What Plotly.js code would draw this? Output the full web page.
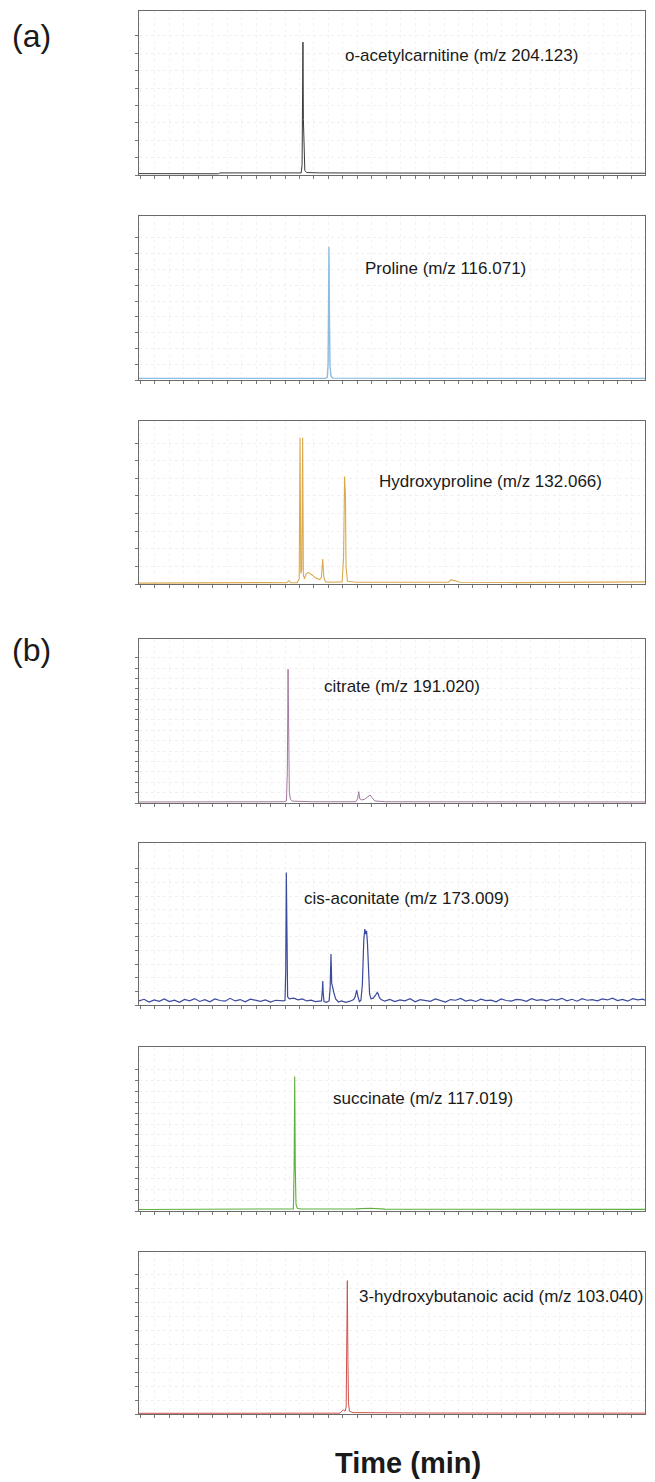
<!DOCTYPE html>
<html>
<head>
<meta charset="utf-8">
<script src="https://cdn.plot.ly/plotly-3.0.1.min.js"></script>
<style>
  html, body { margin: 0; padding: 0; background: #ffffff; }
  #chart { width: 655px; height: 1482px; }
</style>
</head>
<body>
<div id="chart"></div>
<script>
// ---------- DATA (time in min, intensity in arbitrary units) ----------
const compoundLabels = [
  "o-acetylcarnitine (m/z 204.123)",
  "Proline (m/z 116.071)",
  "Hydroxyproline (m/z 132.066)",
  "citrate (m/z 191.020)",
  "cis-aconitate (m/z 173.009)",
  "succinate (m/z 117.019)",
  "3-hydroxybutanoic acid (m/z 103.040)"
];

const acetylcarnitine = [[0,0.08],[5.5,0.07],[5.6,0.12],[11.0,0.1],[11.22,0.12],[11.28,0.6],[11.31,3.5],[11.34,7.64],[11.37,3.2],[11.41,0.8],[11.47,0.25],[11.6,0.14],[12.5,0.12],[20,0.11],[28,0.1],[35,0.1]];

const proline = [[0,0.1],[10,0.1],[12.9,0.1],[13.02,0.15],[13.08,1.0],[13.11,4.5],[13.14,8.44],[13.17,4.2],[13.21,0.9],[13.28,0.25],[13.4,0.12],[20,0.1],[35,0.1]];

const hydroxyproline = [[0,0.05],[3,0.07],[6,0.06],[9,0.08],[10.2,0.07],[10.38,0.19],[10.5,0.07],[10.95,0.08],[11.08,0.3],[11.14,8.31],[11.19,0.6],[11.26,0.8],[11.32,8.31],[11.37,0.5],[11.45,0.3],[11.55,0.55],[11.7,0.66],[11.85,0.6],[12.0,0.5],[12.2,0.35],[12.5,0.25],[12.62,0.4],[12.71,1.42],[12.78,0.4],[12.9,0.12],[13.5,0.1],[14.05,0.12],[14.15,1.5],[14.22,6.1],[14.28,5.0],[14.32,1.0],[14.42,0.15],[15,0.1],[18,0.1],[21.4,0.1],[21.6,0.25],[21.8,0.19],[22.2,0.1],[26,0.08],[30,0.1],[35,0.12]];

const citrate = [[0,0.1],[5.5,0.1],[10.0,0.12],[10.2,0.2],[10.26,3.0],[10.31,12.88],[10.35,4.0],[10.4,1.0],[10.48,0.35],[10.6,0.18],[12,0.12],[15.0,0.12],[15.12,0.4],[15.2,1.09],[15.27,0.4],[15.4,0.3],[15.6,0.35],[15.85,0.6],[15.98,0.77],[16.1,0.55],[16.3,0.2],[17,0.12],[25,0.1],[35,0.1]];

const cisAconitate = [
  [0.0,0.30],[0.35,0.42],[0.7,0.22],[1.05,0.38],[1.4,0.27],[1.75,0.45],[2.1,0.25],[2.45,0.36],[2.8,0.20],[3.15,0.41],
  [3.5,0.31],[3.85,0.47],[4.2,0.26],[4.55,0.39],[4.9,0.23],[5.25,0.44],[5.6,0.33],[5.95,0.28],[6.3,0.49],[6.65,0.30],
  [7.0,0.40],[7.35,0.24],[7.7,0.43],[8.05,0.34],[8.4,0.27],[8.75,0.38],[9.1,0.21],[9.45,0.35],[9.8,0.29],
  [10.0,0.3],[10.1,0.35],[10.15,2.5],[10.19,9.73],[10.23,2.0],[10.28,0.6],[10.4,0.45],
  [10.7,0.5],[11.0,0.38],[11.3,0.45],[11.6,0.30],[11.9,0.36],[12.2,0.25],[12.5,0.30],
  [12.62,0.3],[12.68,1.0],[12.71,1.76],[12.74,0.9],[12.8,0.25],[12.95,0.2],
  [13.15,0.3],[13.22,1.2],[13.28,3.75],[13.33,1.6],[13.4,1.1],[13.48,0.9],[13.6,0.45],[13.8,0.22],[14.0,0.30],[14.3,0.20],[14.6,0.28],[14.85,0.4],
  [14.95,0.6],[15.06,1.1],[15.15,0.6],[15.25,0.25],
  [15.35,0.35],[15.45,1.5],[15.55,4.8],[15.62,5.57],[15.68,5.2],[15.74,5.45],[15.8,4.6],[15.88,2.0],[15.95,0.8],[16.05,0.45],[16.2,0.5],
  [16.35,0.7],[16.48,0.93],[16.55,0.8],[16.62,0.55],[16.75,0.4],
  [17.0,0.28],[17.35,0.41],[17.7,0.25],[18.05,0.37],[18.4,0.30],[18.75,0.46],[19.1,0.24],[19.45,0.39],[19.8,0.33],[20.15,0.27],
  [20.5,0.44],[20.85,0.31],[21.2,0.22],[21.55,0.40],[21.9,0.35],[22.25,0.48],[22.6,0.29],[22.95,0.38],[23.3,0.26],[23.65,0.43],
  [24.0,0.32],[24.35,0.36],[24.7,0.24],[25.05,0.45],[25.4,0.33],[25.75,0.29],[26.1,0.41],[26.45,0.37],[26.8,0.27],[27.15,0.46],
  [27.5,0.34],[27.85,0.40],[28.2,0.30],[28.55,0.44],[28.9,0.36],[29.25,0.49],[29.6,0.31],[29.95,0.42],[30.3,0.28],[30.65,0.47],
  [31.0,0.35],[31.35,0.39],[31.7,0.30],[32.05,0.45],[32.4,0.37],[32.75,0.50],[33.1,0.33],[33.45,0.41],[33.8,0.28],[34.15,0.46],
  [34.5,0.38],[34.85,0.43],[35.0,0.35]
];

const succinate = [[0,0.14],[5.5,0.15],[10.5,0.16],[10.68,0.2],[10.73,4.0],[10.77,12.38],[10.81,4.0],[10.86,0.6],[10.95,0.25],[11.2,0.18],[15,0.2],[16,0.25],[17,0.17],[25,0.16],[35,0.15]];

const hydroxybutanoic = [[0,0.05],[5,0.06],[13.9,0.06],[14.13,0.3],[14.25,0.2],[14.33,0.5],[14.37,3.5],[14.41,9.59],[14.45,4.0],[14.49,0.8],[14.56,0.2],[14.8,0.1],[20,0.07],[35,0.06]];

const seriesData = [acetylcarnitine, proline, hydroxyproline, citrate, cisAconitate, succinate, hydroxybutanoic];

// label anchor positions (time, intensity) per panel
const labelTime = [14.11, 15.51, 16.44, 12.64, 11.25, 13.28, 15.1];
const labelIntensity = [6.9, 7.07, 5.81, 11.27, 7.85, 10.39, 8.44];

// y-axis tick counts (ticks 0..N) and upper range per panel
const yTickCount = [8, 9, 8, 14, 10, 13, 10];
const yRangeMax = [9.43, 10.38, 9.26, 15.8, 11.9, 15.1, 11.65];

const xAxisTitle = "Time (min)";
const groupLabels = ["(a)", "(b)"];

// ---------- STYLE / LAYOUT ----------
const colors = ['#3a3a3a', '#8bbde0', '#dba94e', '#a27a9e', '#3b4a9c', '#5cb03c', '#d0504a'];
const widths = [1, 1.4, 1.1, 1, 1.2, 1.1, 1];
// panel pixel boxes (top, bottom) in page coords
const boxes = [[11,175],[216,380],[421,584],[639,803],[843,1005],[1047,1211],[1252,1414]];
const T = 11, B = 1414, H = B - T;

const traces = [];
const layout = {
  width: 655, height: 1482,
  margin: {l: 139, r: 10, t: 11, b: 68},
  paper_bgcolor: '#ffffff', plot_bgcolor: '#ffffff',
  showlegend: false, hovermode: false,
  font: {family: 'Liberation Sans, Arial, sans-serif', color: '#1a1a1a'},
  annotations: []
};

seriesData.forEach((d, i) => {
  const n = i + 1;
  const xa = 'x' + (n === 1 ? '' : n), ya = 'y' + (n === 1 ? '' : n);
  traces.push({
    type: 'scatter', mode: 'lines',
    x: d.map(p => p[0]), y: d.map(p => p[1]),
    xaxis: xa, yaxis: ya,
    line: {color: colors[i], width: widths[i]}
  });
  const top = boxes[i][0], bot = boxes[i][1];
  const dom = [(B - bot) / H, (B - top) / H];
  const tv = [];
  for (let k = 0; k <= yTickCount[i]; k++) tv.push(k);
  layout['xaxis' + (n === 1 ? '' : n)] = {
    domain: [0, 1], anchor: ya, range: [0, 35],
    showline: true, mirror: true, linecolor: '#6a6a6a', linewidth: 1,
    ticks: 'outside', tick0: 1.1, dtick: 1, ticklen: 3, tickwidth: 1, tickcolor: '#777',
    showticklabels: false, showgrid: true, gridcolor: '#f4f4f4', griddash: 'dot', gridwidth: 1,
    zeroline: false, fixedrange: true
  };
  layout['yaxis' + (n === 1 ? '' : n)] = {
    domain: dom, anchor: xa, range: [0, yRangeMax[i]],
    showline: true, mirror: true, linecolor: '#6a6a6a', linewidth: 1,
    ticks: 'outside', tickmode: 'array', tickvals: tv, ticklen: 3, tickwidth: 1, tickcolor: '#777',
    showticklabels: false, showgrid: true, gridcolor: '#f0f0f0', griddash: 'dot', gridwidth: 1,
    zeroline: false, fixedrange: true
  };
  layout.annotations.push({
    xref: xa, yref: ya, x: labelTime[i], y: labelIntensity[i],
    text: compoundLabels[i], showarrow: false, xanchor: 'left', yanchor: 'middle',
    font: {size: 17, color: '#1a1a1a', family: 'Liberation Sans, Arial, sans-serif'}
  });
});

// group labels
layout.annotations.push({
  xref: 'paper', yref: 'paper', x: (10 - 139) / 506, y: (B - 36) / H,
  text: groupLabels[0], showarrow: false, xanchor: 'left', yanchor: 'middle',
  font: {size: 32, color: '#1a1a1a'}
});
layout.annotations.push({
  xref: 'paper', yref: 'paper', x: (10 - 139) / 506, y: (B - 650) / H,
  text: groupLabels[1], showarrow: false, xanchor: 'left', yanchor: 'middle',
  font: {size: 32, color: '#1a1a1a'}
});
// x title
layout.annotations.push({
  xref: 'paper', yref: 'paper', x: (408 - 139) / 506, y: (B - 1463) / H,
  text: '<b>' + xAxisTitle + '</b>', showarrow: false, xanchor: 'center', yanchor: 'middle',
  font: {size: 29, color: '#1a1a1a'}
});

Plotly.newPlot('chart', traces, layout, {staticPlot: true, displayModeBar: false});
</script>
</body>
</html>
